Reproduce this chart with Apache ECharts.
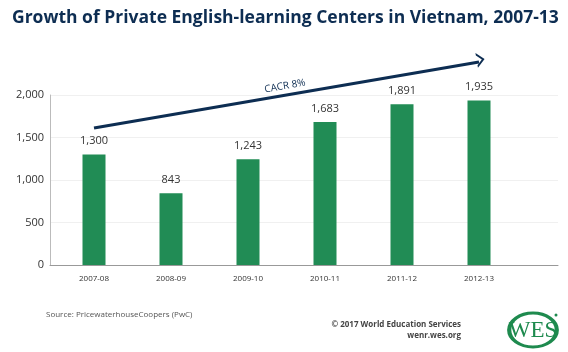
<!DOCTYPE html>
<html>
<head>
<meta charset="utf-8">
<script src="https://cdn.jsdelivr.net/npm/echarts@6/dist/echarts.min.js"></script>
<style>
  html, body { margin: 0; padding: 0; background: #fff; }
  #chart { width: 568px; height: 352px; }
</style>
</head>
<body>
<div id="chart"></div>
<script>
// data
const years = ['2007-08', '2008-09', '2009-10', '2010-11', '2011-12', '2012-13'];
const centers = [1300, 843, 1243, 1683, 1891, 1935];
const yTicks = [0, 500, 1000, 1500, 2000];
// trend arrow: [category index, value]
const trendStart = [0, 1612];
const trendEnd = [5, 2388];
const trendLabel = 'CACR 8%';

const navy = '#0d2d52';
const green = '#218c55';

const chart = echarts.init(document.getElementById('chart'));

const option = {
    backgroundColor: '#fff',
    animation: false,
    title: {
        text: 'Growth of Private English-learning Centers in Vietnam, 2007-13',
        left: 7,
        top: 4,
        textStyle: {
            color: navy,
            fontFamily: 'Open Sans',
            fontWeight: 'bold',
            fontSize: 17.5,
        },
    },
    grid: [
        // frame: axis lines + split lines
        { left: 50, right: 10, top: 95, bottom: 87 },
        // bars + trend arrow (taller hidden scale so the arrow fits above 2,000)
        { left: 55.5, right: 50.5, top: 10, bottom: 87 },
    ],
    xAxis: [
        {
            gridIndex: 0,
            type: 'value',
            min: 0,
            max: 1,
            axisLine: { show: true, onZero: false, lineStyle: { color: '#999', width: 1 } },
            axisTick: { show: false },
            axisLabel: { show: false },
            splitLine: { show: false },
        },
        {
            gridIndex: 1,
            type: 'category',
            data: years,
            axisLine: { show: false },
            axisTick: { show: false },
            axisLabel: {
                color: '#333',
                fontFamily: 'Open Sans',
                fontSize: 8,
                margin: 10,
            },
        },
    ],
    yAxis: [
        {
            gridIndex: 0,
            type: 'value',
            min: yTicks[0],
            max: yTicks[yTicks.length - 1],
            interval: 500,
            axisLine: { show: true, lineStyle: { color: '#bbb' } },
            axisTick: { show: false },
            axisLabel: {
                color: '#333',
                fontFamily: 'Open Sans',
                fontSize: 11,
                margin: 6,
                formatter: v => v.toLocaleString('en-US'),
            },
            splitLine: { lineStyle: { color: '#f0f0f0' } },
        },
        {
            gridIndex: 1,
            type: 'value',
            min: 0,
            max: 3000,
            interval: 500,
            show: false,
        },
    ],
    series: [
        {
            name: 'Centers',
            type: 'bar',
            xAxisIndex: 1,
            yAxisIndex: 1,
            data: centers,
            barWidth: 23,
            itemStyle: { color: green },
            label: {
                show: true,
                position: 'top',
                distance: 8,
                color: '#333',
                fontFamily: 'Open Sans',
                fontSize: 11,
                formatter: p => p.value.toLocaleString('en-US'),
            },
            markLine: {
                silent: true,
                symbol: ['none', 'path://M0,10 L10,0 L20,10 L16.5,10 L10,3.5 L3.5,10 Z'],
                symbolSize: [15, 8],
                symbolOffset: [0, -2],
                lineStyle: { color: navy, width: 3, type: 'solid' },
                label: {
                    show: true,
                    position: 'middle',
                    formatter: trendLabel,
                    color: navy,
                    fontFamily: 'Open Sans',
                    fontSize: 10,
                    distance: 4,
                },
                data: [[{ coord: trendStart }, { coord: trendEnd }]],
            },
        },
    ],
    graphic: [
        {
            type: 'text',
            left: 46,
            top: 311,
            style: {
                text: 'Source: PricewaterhouseCoopers (PwC)',
                fill: '#555',
                font: '8px "Open Sans"',
            },
        },
        {
            type: 'text',
            right: 107,
            top: 321,
            style: {
                text: '© 2017 World Education Services',
                fill: '#444',
                font: 'bold 8px "Open Sans"',
                align: 'right',
            },
        },
        {
            type: 'text',
            right: 107,
            top: 332,
            style: {
                text: 'wenr.wes.org',
                fill: '#444',
                font: 'bold 8px "Open Sans"',
                align: 'right',
            },
        },
        {
            type: 'circle',
            x: 533,
            y: 330,
            scaleX: 1.4,
            shape: { cx: 0, cy: 0, r: 17 },
            style: { fill: '#fff', stroke: '#1e8a4e', lineWidth: 3 },
        },
        {
            type: 'circle',
            x: 556,
            y: 315,
            shape: { cx: 0, cy: 0, r: 1.5 },
            style: { fill: '#1e8a4e' },
        },
        {
            type: 'text',
            x: 533,
            y: 331,
            style: {
                text: 'WES',
                fill: '#1e8a4e',
                font: '23px "Liberation Serif"',
                align: 'center',
                verticalAlign: 'middle',
            },
        },
    ],
};

chart.setOption(option);
</script>
</body>
</html>
